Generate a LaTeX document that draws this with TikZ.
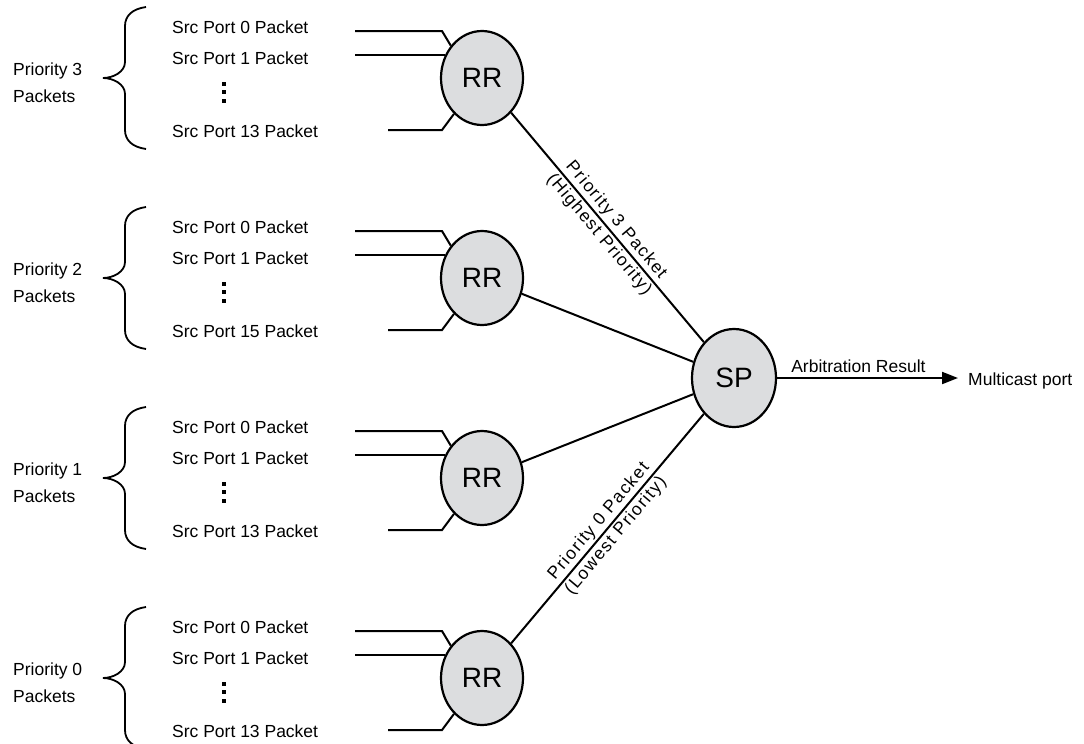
\documentclass[tikz,border=0pt]{standalone}
\usepackage{fontspec}
\setmainfont{Liberation Sans}
\usetikzlibrary{arrows.meta,calc,shapes.geometric}
\definecolor{nodegray}{RGB}{220,221,223}
\begin{document}
\begin{tikzpicture}[x=1pt,y=-1pt,
  txt/.style={font=\fontsize{17.5}{21}\selectfont, inner sep=0pt},
  slab/.style={font=\fontsize{17.5}{21}\selectfont\addfontfeature{LetterSpace=8}, inner sep=0pt, sloped, midway},
  arb/.style={ellipse, draw, line width=2.2pt, fill=nodegray, minimum width=82pt, minimum height=94pt, inner sep=0pt, font=\fontsize{28}{30}\selectfont},
  wire/.style={line width=2pt},
  bracepath/.style={line width=1.8pt}]
\useasboundingbox (0,0) rectangle (1084,744);

\foreach \i/\c/\n/\p in {1/78/13/3,2/278/15/2,3/478/13/1,4/678/13/0}{
  \node[arb] (rr\i) at (482,\c) {RR};
  \node[txt,anchor=west] (sa\i) at (172,\c-51) {Src Port 0 Packet};
  \node[txt,anchor=west] (sb\i) at (172,\c-20) {Src Port 1 Packet};
  \node[txt,anchor=west] (sc\i) at (172,\c+53) {Src Port \n\ Packet};
  \fill (222,\c+4.4) rectangle ++(4,4);
  \fill (222,\c+12.3) rectangle ++(4,4);
  \fill (222,\c+20.9) rectangle ++(4,4);
  \node[anchor=west, align=left, inner sep=0pt, font=\fontsize{17.5}{27}\selectfont] (pl\i) at (13,\c+4.5) {Priority \p\\Packets};
  \draw[bracepath] (146,\c-71) .. controls (132,\c-69) and (125,\c-62) .. (125,\c-52)
     -- (125,\c-16) .. controls (125,\c-6) and (113,\c) .. (103,\c)
     .. controls (113,\c) and (125,\c+6) .. (125,\c+16)
     -- (125,\c+52) .. controls (125,\c+62) and (132,\c+69) .. (146,\c+71);
  \coordinate (ia\i) at (355,\c-47);
  \coordinate (ib\i) at (355,\c-23);
  \coordinate (ic\i) at (388,\c+52);
  \draw[wire] (ia\i) -- ++(87,0) -- (rr\i.134);
  \draw[wire] (ib\i) -- (ib\i -| rr\i.147);
  \draw[wire] (ic\i) -- ++(54,0) -- (rr\i.232);
}

\node[arb, minimum width=84pt, minimum height=98pt] (sp) at (734,378) {SP};

\draw[wire] (rr1) -- (sp)
  node[slab, above=2pt] {Priority 3 Packet}
  node[slab, below=2pt] {(Highest Priority)};
\draw[wire] (rr2) -- (sp);
\draw[wire] (rr3) -- (sp);
\draw[wire] (rr4) -- (sp)
  node[slab, above=2pt] {Priority 0 Packet}
  node[slab, below=2pt] {(Lowest Priority)};

\node[txt, anchor=west] (mc) at (968,380.5) {Multicast port};
\draw[wire, -{Triangle[length=16pt,width=12pt]}, shorten >=10pt] (sp.east) -- (sp.east -| mc.west)
  node[txt, pos=0.426, above=4.5pt] {Arbitration Result};
\end{tikzpicture}
\end{document}
